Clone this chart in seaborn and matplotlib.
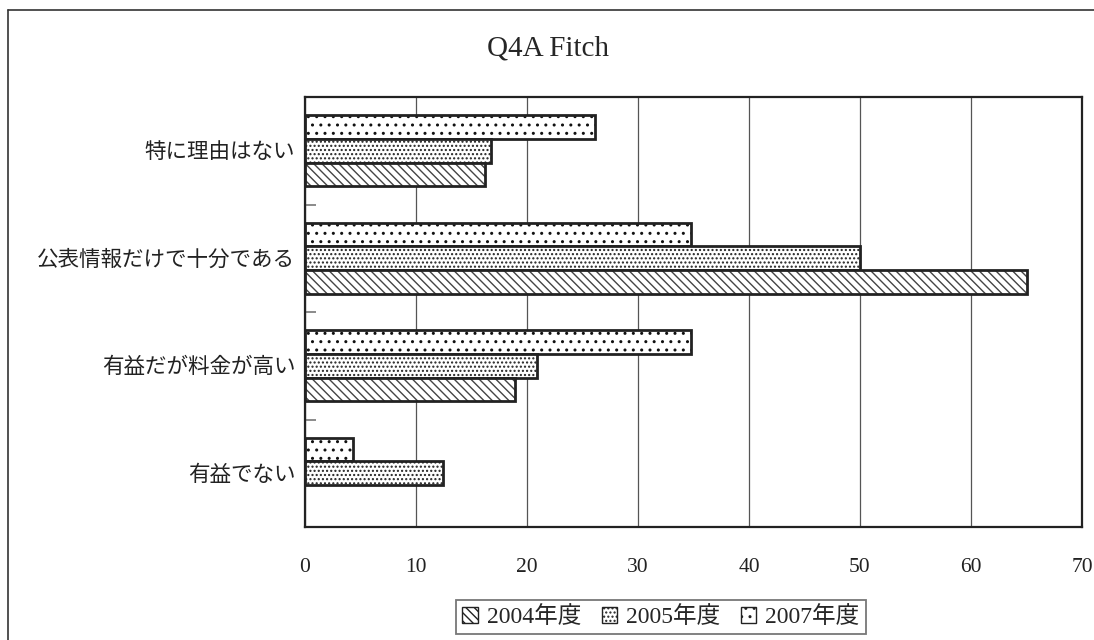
import pandas as pd
import numpy as np
import matplotlib
matplotlib.use('Agg')
import matplotlib.pyplot as plt
import matplotlib.patches as mpatches
from matplotlib.lines import Line2D
import seaborn as sb

# data
categories = ['特に理由はない', '公表情報だけで十分である', '有益だが料金が高い', '有益でない']
years = ['2004年度', '2005年度', '2007年度']
v2004 = [16.2, 65.0, 18.9, 0.0]
v2005 = [16.8, 50.0, 20.9, 12.4]
v2007 = [26.1, 34.8, 34.8, 4.3]

df = pd.DataFrame({
    'reason': categories * 3,
    'year': [years[0]] * 4 + [years[1]] * 4 + [years[2]] * 4,
    'value': v2004 + v2005 + v2007,
})

sb.set_style('white')
plt.rcParams['font.family'] = ['Liberation Serif', 'Noto Sans CJK JP', 'DejaVu Sans']
plt.rcParams['hatch.linewidth'] = 1.0

hatches = {'2004年度': '\\\\\\\\', '2005年度': '....', '2007年度': '..'}
hatch_cols = {'2004年度': '#444444', '2005年度': '#222222', '2007年度': '#111111'}
hue_order = ['2007年度', '2005年度', '2004年度']  # top to bottom inside a group

fig = plt.figure(figsize=(10.94, 6.4), dpi=100)
ax = fig.add_axes([305 / 1094, 1 - 527 / 640, (1082 - 305) / 1094, (527 - 97) / 640])

sb.barplot(data=df, x='value', y='reason', hue='year', hue_order=hue_order,
           order=categories, orient='h', width=0.656, ax=ax, legend=False,
           palette={y: 'white' for y in years}, edgecolor='#222222',
           linewidth=2.0, saturation=1)

# hatch the bars, series by series
for cont, yr in zip(ax.containers, hue_order):
    for p in cont.patches:
        p.set_hatch(hatches[yr])
        p.set_facecolor('white')
        p._hatch_color = matplotlib.colors.to_rgba(hatch_cols[yr])
        if p.get_width() == 0:
            p.set_linewidth(0)

ax.set_xlim(0, 70)
ax.set_ylim(3.5, -0.5)
ax.set_xticks(np.arange(0, 71, 10))
ax.grid(axis='x', color='#555555', linewidth=0.9)
ax.set_axisbelow(True)
ax.set_xlabel('')
ax.set_ylabel('')

for s in ax.spines.values():
    s.set_color('#222222')
    s.set_linewidth(1.6)

ax.tick_params(axis='x', length=0, pad=22, labelsize=15.5, colors='#222222')
ax.tick_params(axis='y', length=0, pad=7, labelsize=15.5, colors='#222222')
ax.set_yticks([0.5, 1.5, 2.5], minor=True)
ax.tick_params(axis='y', which='minor', left=True, direction='in', length=8,
               color='#777777', width=1.2)

fig.text(548 / 1094, 1 - 48 / 640, 'Q4A Fitch', ha='center', va='center', fontsize=21)

# legend in 2004, 2005, 2007 order
handles = [mpatches.Patch(facecolor='white', edgecolor='#222222', hatch=hatches[y], label=y)
           for y in years]
leg = fig.legend(handles=handles, loc='center', bbox_to_anchor=(661 / 1094, 1 - 617 / 640),
                 ncol=3, fontsize=17, frameon=True, fancybox=False, handlelength=0.65,
                 handleheight=0.65, handletextpad=0.4, columnspacing=0.85, borderpad=0.25,
                 borderaxespad=0)
leg.get_frame().set_edgecolor('#555555')
leg.get_frame().set_linewidth(1.3)

# outer chart border (left and top visible)
fig.add_artist(Line2D([8 / 1094, 8 / 1094], [0, 1 - 10 / 640], transform=fig.transFigure,
                      color='#333333', linewidth=1.2))
fig.add_artist(Line2D([8 / 1094, 1], [1 - 10 / 640, 1 - 10 / 640], transform=fig.transFigure,
                      color='#333333', linewidth=1.2))

fig.savefig('out.png', dpi=100)
